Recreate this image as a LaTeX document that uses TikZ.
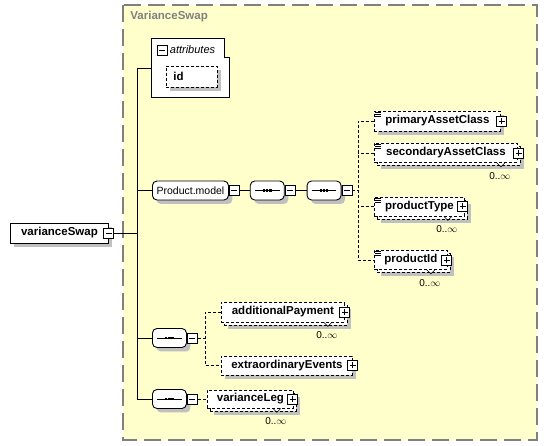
\documentclass[tikz,border=0pt]{standalone}
\usepackage{fontspec}
\setmainfont{Liberation Sans}
\usetikzlibrary{positioning,shadows}
\definecolor{groupbg}{RGB}{255,255,204}
\definecolor{groupline}{RGB}{128,128,128}
\definecolor{shade}{RGB}{192,192,192}
\tikzset{
  box/.style = 	{shape=rectangle, draw, fill=white, anchor=west,
				inner sep=0pt, minimum height=19pt,
				font=\fontsize{11.5}{13}\selectfont\bfseries},
  elem/.style = 	{box, drop shadow={shadow xshift=4pt, shadow yshift=-4pt,
				fill=shade, opacity=1}},
  opt/.style = 	{elem, dash pattern=on 3pt off 2pt},
  multi/.style = 	{box, dash pattern=on 3pt off 2pt,
				drop shadow={shadow xshift=7pt, shadow yshift=-7pt,
				fill=shade, opacity=1},
				copy shadow={shadow xshift=3pt, shadow yshift=-3pt}},
  cplx/.style = 	{path picture={
				\draw [solid, line width=0.6pt]
				([shift={(1pt,-1pt)}]path picture bounding box.north west) -- ++(6pt,0pt)
				([shift={(1pt,-3pt)}]path picture bounding box.north west) -- ++(6pt,0pt)
				([shift={(1pt,-5pt)}]path picture bounding box.north west) -- ++(6pt,0pt);}},
  group/.style = 	{shape=rectangle, rounded corners=4.5pt, draw, fill=white,
				anchor=west, inner sep=0pt, minimum height=19pt,
				font=\fontsize{10.5}{12}\selectfont,
				drop shadow={shadow xshift=4pt, shadow yshift=-4pt,
				fill=shade, opacity=1}},
  seq/.style = 	{group, minimum width=34pt, inner ysep=8pt,
				node contents={\rule[-0.45pt]{8pt}{0.9pt}\rule[-1.2pt]{2.4pt}{2.4pt}%
				\rule[-0.45pt]{0.8pt}{0.9pt}\rule[-1.2pt]{2.4pt}{2.4pt}%
				\rule[-0.45pt]{0.8pt}{0.9pt}\rule[-1.2pt]{2.4pt}{2.4pt}%
				\rule[-0.45pt]{8pt}{0.9pt}}},
  minusbox/.style = 	{shape=rectangle, draw, solid, fill=white, minimum size=10pt,
				inner sep=0pt, path picture={
				\draw ([xshift=2pt]path picture bounding box.west) --
				([xshift=-2pt]path picture bounding box.east);}},
  plusbox/.style = 	{minusbox, path picture={
				\draw ([xshift=2pt]path picture bounding box.west) --
				([xshift=-2pt]path picture bounding box.east);
				\draw ([yshift=2pt]path picture bounding box.south) --
				([yshift=-2pt]path picture bounding box.north);}},
  occurs/.style = 	{inner sep=1pt, font=\fontsize{10}{11}\selectfont},
  notch/.style = 	{line width=0.5pt},
  optline/.style = 	{dash pattern=on 3pt off 2pt},
}

\begin{document}
\begin{tikzpicture}
	[
		x          = 1pt,
		y          = -1pt,
		line width = 0.9pt
	]
	\useasboundingbox (0,0) rectangle (547,446);
	% complex type frame
	\draw [fill=groupbg, draw=groupline, line width=1.6pt,
		dash pattern=on 17pt off 7pt] (123,5) rectangle (537,440);
	\node [anchor=west, inner sep=0pt, text=groupline,
		font=\fontsize{11.5}{13}\selectfont\bfseries] (title) at (130,17) {VarianceSwap};

	% root element
	\node [elem, minimum width=98pt, minimum height=20pt] (vs) at (10,233) {varianceSwap};
	\node [minusbox] (vsM) at (vs.east) {};

	% attributes
	\draw [fill=white] (151,38) -- (224,38) -- (224,57) -- (229,57) -- (229,97) -- (151,97) -- cycle;
	\node [minusbox] (attrM) at (162,50) {};
	\node [right=2pt of attrM, inner sep=0pt,
		font=\fontsize{11}{12}\selectfont\itshape] (attrT) {attributes};
	\node [opt, minimum height=21pt, inner xsep=7pt, text width=37pt, align=left] (id) at (166,76.5) {id};
	\coordinate (attrL) at (151,68);

	% trunk
	\coordinate (tTop) at (137,68);
	\coordinate (tBot) at (137,399);
	\draw (tTop) -- (tBot);
	\draw (tTop) -- (attrL);
	\draw (vsM.east) -- (vsM.east -| tTop);

	% Product.model
	\node [group, minimum width=76pt] (pm) at (152,190.5) {Product.model};
	\node [minusbox, right=0pt of pm] (pmM) {};
	\node [seq, name=s1, right=10pt of pmM];
	\node [minusbox, right=0pt of s1] (s1M) {};
	\node [seq, name=s2, right=11pt of s1M];
	\node [minusbox, right=0pt of s2] (s2M) {};
	\draw (pm.west) -- (pm.west -| tTop);
	\draw (pmM) -- (s1);
	\draw (s1M) -- (s2);

	\node [cplx, opt, minimum width=126pt, minimum height=20pt] (pac) at (374,121) {primaryAssetClass};
	\node [plusbox] (pacP) at ([xshift=1pt]pac.east) {};
	\node [cplx, multi, minimum width=143pt] (sac) at (374,153) {secondaryAssetClass};
	\node [plusbox] (sacP) at ([xshift=1pt]sac.east) {};
	\node [occurs, below left=8pt and 6pt of sac.south east] (sacN) {0..$\infty$};
	\node [cplx, multi, minimum width=90pt] (pt) at (374,206.5) {productType};
	\node [plusbox] (ptP) at ([xshift=-2pt]pt.east) {};
	\node [occurs, below left=8pt and 6pt of pt.south east] (ptN) {0..$\infty$};
	\node [cplx, multi, minimum width=73pt] (pid) at (374,260) {productId};
	\node [plusbox] (pidP) at ([xshift=-1pt]pid.east) {};
	\node [occurs, below left=8pt and 6pt of pid.south east] (pidN) {0..$\infty$};

	\coordinate (f1) at (358,190.5);
	\draw [optline] (s2M.east) -- (f1);
	\draw [optline] (pac.west) -- (pac.west -| f1) |- (pid.west);
	\draw [optline] (sac.west) -- (sac.west -| f1);
	\draw [optline] (pt.west) -- (pt.west -| f1);

	% payments and events
	\node [seq, name=s3, at={(152,338)}];
	\node [minusbox, right=0pt of s3] (s3M) {};
	\draw (s3.west) -- (s3.west -| tTop);
	\node [multi, minimum width=123pt, minimum height=20pt] (ap) at (221,312) {additionalPayment};
	\node [plusbox] (apP) at (ap.east) {};
	\node [occurs, below left=8pt and 6pt of ap.south east] (apN) {0..$\infty$};
	\node [opt, minimum width=131pt] (ee) at (221,365.5) {extraordinaryEvents};
	\node [plusbox] (eeP) at (ee.east) {};
	\coordinate (f2) at (205,338);
	\draw [optline] (s3M.east) -- (f2);
	\draw [optline] (ap.west) -- (ap.west -| f2) |- (ee.west);

	% legs
	\node [seq, name=s4, at={(152,399)}];
	\node [minusbox, right=0pt of s4] (s4M) {};
	\draw (s4.west) -- (tBot);
	\node [multi, minimum width=86pt, minimum height=18pt] (vl) at (207,399) {varianceLeg};
	\node [plusbox] (vlP) at ([xshift=-1pt]vl.east) {};
	\node [occurs, below left=8pt and 6pt of vl.south east] (vlN) {0..$\infty$};
	\draw [optline] (s4M) -- (vl);

	% occurrence notches
	\draw [notch] ([shift={(-3pt,8pt)}]sacN.north) -- ([shift={(1pt,4pt)}]sacN.north) -- ([shift={(5pt,8pt)}]sacN.north);
	\draw [notch] ([shift={(-3pt,8pt)}]ptN.north) -- ([shift={(1pt,4pt)}]ptN.north) -- ([shift={(5pt,8pt)}]ptN.north);
	\draw [notch] ([shift={(-3pt,8pt)}]pidN.north) -- ([shift={(1pt,4pt)}]pidN.north) -- ([shift={(5pt,8pt)}]pidN.north);
	\draw [notch] ([shift={(-3pt,8pt)}]apN.north) -- ([shift={(1pt,4pt)}]apN.north) -- ([shift={(5pt,8pt)}]apN.north);
	\draw [notch] ([shift={(-3pt,8pt)}]vlN.north) -- ([shift={(1pt,4pt)}]vlN.north) -- ([shift={(5pt,8pt)}]vlN.north);
\end{tikzpicture}
\end{document}
